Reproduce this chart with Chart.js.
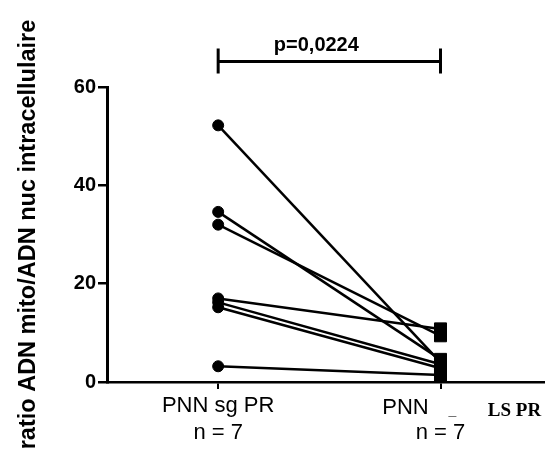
<!DOCTYPE html>
<html>
<head>
<meta charset="utf-8">
<script src="https://cdn.jsdelivr.net/npm/chart.js@4.4.1/dist/chart.umd.min.js"></script>
<style>
  html, body { margin: 0; padding: 0; background: #ffffff; }
  #wrap { width: 545px; height: 453px; position: relative; }
</style>
</head>
<body>
<div id="wrap"><canvas id="c" width="545" height="453"></canvas></div>
<script>
// ---- data ----
const categories = ['PNN sg PR', 'PNN_LS PR'];
const nLabels = ['n = 7', 'n = 7'];
const sgPR = [52.2, 34.6, 32.0, 17.0, 16.2, 15.2, 3.2];
const lsPR = [4.0, 4.6, 9.4, 10.8, 3.6, 2.8, 1.4];
const yTicks = [0, 20, 40, 60];
const pText = 'p=0,0224';
const yTitle = 'ratio ADN mito/ADN nuc intracellulaire';

const datasets = sgPR.map((v, i) => ({
  data: [{ x: 1, y: v }, { x: 2, y: lsPR[i] }],
  borderColor: '#000',
  borderWidth: 2.5,
  backgroundColor: '#000',
  pointBackgroundColor: '#000',
  pointBorderColor: '#000',
  pointBorderWidth: 1,
  pointStyle: ['circle', 'rect'],
  pointRadius: [5.5, 8.5],
  fill: false,
  tension: 0
}));

const extras = {
  id: 'extras',
  afterDraw(chart) {
    const ctx = chart.ctx;
    const xs = chart.scales.x, ys = chart.scales.y;
    const x1 = xs.getPixelForValue(1), x2 = xs.getPixelForValue(2);
    const yb = ys.getPixelForValue(65.2);
    ctx.save();
    ctx.strokeStyle = '#000';
    ctx.lineWidth = 3;
    ctx.beginPath();
    ctx.moveTo(x1, yb); ctx.lineTo(x2, yb);
    ctx.moveTo(x1, yb - 13); ctx.lineTo(x1, yb + 12);
    ctx.moveTo(x2, yb - 13); ctx.lineTo(x2, yb + 12);
    ctx.stroke();
    ctx.fillStyle = '#000';
    ctx.textAlign = 'center';
    ctx.textBaseline = 'middle';
    ctx.font = 'bold 20px "Liberation Sans", Arial, sans-serif';
    ctx.fillText(pText, (x1 + x2) / 2 - 13, yb - 16);
    // second category label (partly overlapped in the original)
    const parts = categories[1].split('_');
    const yl = ys.bottom + 26;
    ctx.font = '22px "Liberation Sans", Arial, sans-serif';
    ctx.fillText(parts[0], x2 - 35, yl);
    ctx.font = 'bold 14px "Liberation Sans", Arial, sans-serif';
    ctx.fillText('_', x2 + 12, yl + 3);
    ctx.font = 'bold 19px "Liberation Serif", "Times New Roman", serif';
    ctx.fillText(parts[1], x2 + 74, yl + 3);
    ctx.restore();
  }
};

new Chart(document.getElementById('c'), {
  type: 'line',
  data: { datasets },
  plugins: [extras],
  options: {
    responsive: false,
    animation: false,
    events: [],
    layout: { autoPadding: false, padding: { top: 87, right: 0, bottom: 0, left: 0 } },
    plugins: { legend: { display: false }, tooltip: { enabled: false } },
    scales: {
      x: {
        type: 'linear',
        min: 0.5,
        max: 2.47,
        afterFit(s) { s.height = 71; s.paddingRight = 0; s.paddingLeft = 0; },
        afterBuildTicks(s) { s.ticks = [{ value: 1 }, { value: 2 }]; },
        border: { display: true, color: '#000', width: 2.5 },
        grid: { display: true, drawOnChartArea: false, drawTicks: true, tickLength: 7, color: '#000', lineWidth: 2 },
        ticks: {
          padding: 4,
          color: '#000',
          maxRotation: 0,
          autoSkip: false,
          font: { family: '"Liberation Sans", Arial, sans-serif', size: 22, lineHeight: 1.2 },
          callback: (v) => v === 1 ? [categories[0], nLabels[0]] : (v === 2 ? ['', nLabels[1]] : '')
        }
      },
      y: {
        type: 'linear',
        min: 0,
        max: 60,
        afterFit(s) { s.width = 107; },
        afterBuildTicks(s) { s.ticks = yTicks.map(v => ({ value: v })); },
        border: { display: true, color: '#000', width: 3 },
        grid: { display: true, drawOnChartArea: false, drawTicks: true, tickLength: 9, color: '#000', lineWidth: 2.5 },
        ticks: {
          padding: 2,
          color: '#000',
          font: { family: '"Liberation Sans", Arial, sans-serif', size: 20, weight: 'bold' }
        },
        title: {
          display: true,
          text: yTitle,
          color: '#000',
          padding: { top: 14, bottom: 0 },
          font: { family: '"Liberation Sans", Arial, sans-serif', size: 23.5, weight: 'bold' }
        }
      }
    }
  }
});
</script>
</body>
</html>
